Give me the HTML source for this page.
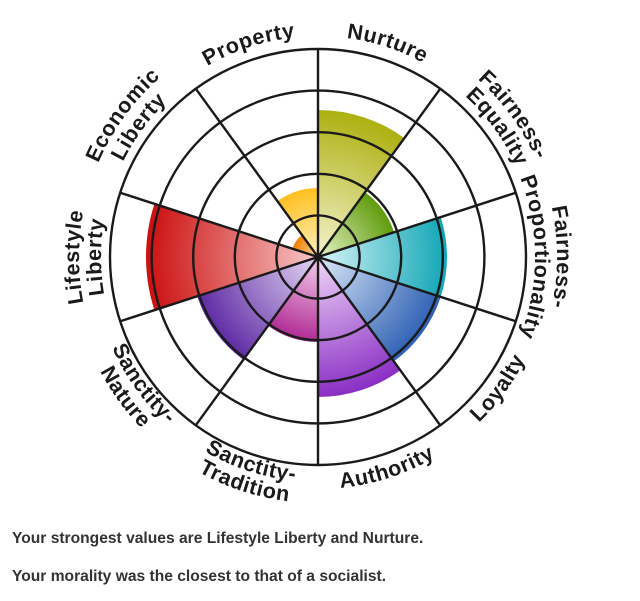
<!DOCTYPE html>
<html><head><meta charset="utf-8"><style>
body{margin:0;background:#fff;width:640px;height:601px;overflow:hidden;font-family:"Liberation Sans",sans-serif}
svg{position:absolute;left:0;top:0}
.t{position:absolute;left:12px;font-weight:bold;font-size:15.6px;color:#333}
</style></head><body>
<svg id="s" width="640" height="520" viewBox="0 0 640 520"></svg>
<div class="t" style="top:530px">Your strongest values are Lifestyle Liberty and Nurture.</div>
<div class="t" style="top:568px">Your morality was the closest to that of a socialist.</div>
<script>
const cx=318,cy=257,NS="http://www.w3.org/2000/svg";
const P=(r,a)=>{a=a*Math.PI/180;return [(cx+r*Math.sin(a)).toFixed(2),(cy-r*Math.cos(a)).toFixed(2)]};
const data=[
["Nurture",147,"#adb010","#f4f4d0"],
["Fair-Eq",80,"#5f9c0c","#e8f4c8"],
["Fair-Prop",129,"#12a6b6","#d8f6f8"],
["Loyalty",129,"#2e60b4","#dce8f8"],
["Authority",140,"#8a2ec4","#f0d8f8"],
["SancTrad",85,"#b02a94","#f4d0ec"],
["SancNat",127,"#5e2aa4","#e4d8f4"],
["Life",172,"#cc1010","#f8c8c8"],
["Econ",27,"#f08000","#ffd8a0"],
["Prop",69,"#ffc020","#fff0c0"]];
let h='<defs>';
data.forEach((d,i)=>{h+=`<radialGradient id="g${i}" gradientUnits="userSpaceOnUse" cx="${cx}" cy="${cy}" r="${d[1]}"><stop offset="0" stop-color="${d[3]}"/><stop offset="1" stop-color="${d[2]}"/></radialGradient>`});
function circ(id,r,a,cw){let s=P(r,a),m=P(r,a+180);let f=cw?1:0;
h+=`<path id="${id}" d="M${s} A${r} ${r} 0 0 ${f} ${m} A${r} ${r} 0 0 ${f} ${s}"/>`;}
const labels=[
[18,true,[["Nurture",221]]],
[54,true,[["Fairness-",239],["Equality",218]]],
[90,true,[["Fairness-",239],["Proportionality",217]]],
[126,false,[["Loyalty",231]]],
[162,false,[["Authority",232]]],
[198,false,[["Sanctity-",225],["Tradition",246]]],
[234,false,[["Sanctity-",225],["Nature",246]]],
[270,true,[["Lifestyle",239],["Liberty",217]]],
[306,true,[["Economic",239],["Liberty",217]]],
[342,true,[["Property",221]]]];
let tx='';let k=0;
labels.forEach(L=>{L[2].forEach(l=>{let id='p'+k++;
 if(L[1]) circ(id,l[1],L[0]-180,true); else circ(id,l[1],L[0]+180,false);
 tx+=`<text font-family="Liberation Sans" font-weight="bold" font-size="21.5" fill="#1a1a1a" letter-spacing="0.6"><textPath href="#${id}" startOffset="50%" text-anchor="middle">${l[0]}</textPath></text>`;})});
h+='</defs>';
data.forEach((d,i)=>{let r=d[1],a=P(r,i*36),b=P(r,i*36+36);
h+=`<path d="M${cx} ${cy} L${a} A${r} ${r} 0 0 1 ${b} Z" fill="url(#g${i})"/>`});
for(let j=1;j<=5;j++)h+=`<circle cx="${cx}" cy="${cy}" r="${j*41.6}" fill="none" stroke="#1a1a1a" stroke-width="2.4"/>`;
for(let i=0;i<10;i++){let p=P(208,i*36);h+=`<line x1="${cx}" y1="${cy}" x2="${p[0]}" y2="${p[1]}" stroke="#1a1a1a" stroke-width="2.4"/>`}
h+=`<circle cx="${cx}" cy="${cy}" r="3" fill="#1a1a1a"/>`;
h+=tx;
document.getElementById('s').innerHTML=h;
</script>
</body></html>
